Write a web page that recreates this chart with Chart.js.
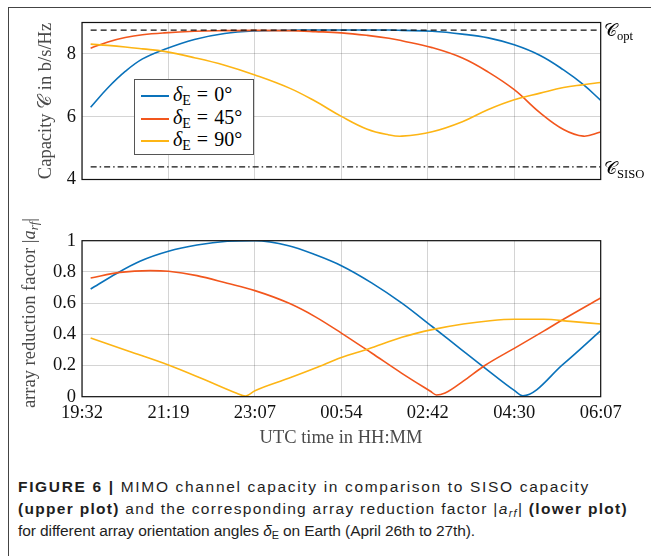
<!DOCTYPE html>
<html>
<head>
<meta charset="utf-8">
<script src="https://cdn.jsdelivr.net/npm/chart.js@4"></script>
<style>
  body { margin: 0; background: #fff; }
  #page { position: relative; width: 651px; height: 556px; overflow: hidden; background: #fff; }
  #frame { position: absolute; left: 8px; top: 7px; right: 0; bottom: 0; border-top: 1px solid #444; border-left: 1px solid #444; }
  canvas { position: absolute; left: 0; }
  .serif { font-family: "Liberation Serif", "DejaVu Serif", serif; }
  .ylab { position: absolute; white-space: nowrap; color: #4a4a4a; font-size: 18.5px;
          transform: translate(-50%, -50%) rotate(-90deg); }
  .cal { font-family: "DejaVu Sans", "Liberation Serif", serif; font-style: normal; }
  #legend { position: absolute; left: 134px; top: 79px; width: 118px; height: 74px;
            border: 1px solid #555; background: #fff; z-index: 3; font-size: 20px; }
  .item { position: absolute; left: 6px; height: 22px; line-height: 22px; white-space: nowrap; }
  .swatch { display: inline-block; width: 28px; height: 0; border-top: 2px solid; vertical-align: middle; margin-right: 4px; }
  .eq { margin: 0 6px; }
  sub { font-size: 70%; vertical-align: -0.3em; line-height: 0; }
  .side { position: absolute; font-size: 18px; white-space: nowrap; z-index: 3; }
  #xlab { position: absolute; left: 341px; top: 437px; transform: translate(-50%, -50%); color: #4a4a4a; font-size: 18.5px; white-space: nowrap; }
  #caption { position: absolute; left: 18px; top: 476px; font-family: "Liberation Sans", Arial, sans-serif;
             font-size: 15.5px; line-height: 22px; color: #1e1e1e; }
  .cl { display: block; width: max-content; white-space: nowrap; }
</style>
</head>
<body>
<div id="page">
  <div id="frame"></div>
  <canvas id="capChart" width="651" height="200" style="top:0"></canvas>
  <canvas id="arfChart" width="651" height="256" style="top:200px"></canvas>

  <div class="ylab serif" style="left:45px; top:101px">Capacity <span class="cal">𝒞</span> in b/s/Hz</div>
  <div class="ylab serif" style="left:29px; top:313px">array reduction factor |<i>a</i><sub><i>rf</i></sub>|</div>

  <div id="legend" class="serif">
    <div class="item" style="top:3px"><span class="swatch" style="border-color:#0a72ba"></span><i>δ</i><sub>E</sub><span class="eq">=</span>0°</div>
    <div class="item" style="top:25.5px"><span class="swatch" style="border-color:#f2561d"></span><i>δ</i><sub>E</sub><span class="eq">=</span>45°</div>
    <div class="item" style="top:48px"><span class="swatch" style="border-color:#fdb515"></span><i>δ</i><sub>E</sub><span class="eq">=</span>90°</div>
  </div>

  <div class="side serif" style="left:604px; top:19px"><span class="cal">𝒞</span><sub>opt</sub></div>
  <div class="side serif" style="left:604px; top:157px"><span class="cal">𝒞</span><sub>SISO</sub></div>

  <div id="xlab" class="serif">UTC time in HH:MM</div>

  <div id="caption">
    <span class="cl" data-w="572"><b>FIGURE 6 |</b> MIMO channel capacity in comparison to SISO capacity</span>
    <span class="cl" data-w="610"><b>(upper plot)</b> and the corresponding array reduction factor |<i>a</i><sub><i>rf</i></sub>| <b>(lower plot)</b></span>
    <span class="cl" data-w="457">for different array orientation angles <i>δ</i><sub>E</sub> on Earth (April 26th to 27th).</span>
  </div>
</div>

<script>
// tick labels of the time axis (one per grid line, x = 0..6)
const timeLabels = ['19:32', '21:19', '23:07', '00:54', '02:42', '04:30', '06:07'];

// upper plot: capacity in b/s/Hz
const capTime = [0.1, 0.3, 0.5, 0.7, 0.95, 1.3, 1.65, 2.0, 2.4, 2.7, 3.0, 3.3, 3.55, 3.7, 4.05, 4.4, 4.7, 5.0, 5.3, 5.57, 5.8, 6.0];
const capDelta0 = [6.30, 6.92, 7.44, 7.84, 8.14, 8.46, 8.65, 8.73, 8.75, 8.76, 8.76, 8.76, 8.76, 8.75, 8.72, 8.63, 8.51, 8.29, 7.95, 7.49, 7.02, 6.52];
const capDelta45 = [8.18, 8.38, 8.52, 8.61, 8.67, 8.72, 8.74, 8.75, 8.74, 8.71, 8.67, 8.59, 8.50, 8.42, 8.20, 7.87, 7.42, 6.86, 6.12, 5.59, 5.38, 5.51];
const capDelta90 = [8.31, 8.27, 8.22, 8.16, 8.08, 7.88, 7.64, 7.33, 6.91, 6.49, 6.01, 5.60, 5.42, 5.38, 5.52, 5.84, 6.23, 6.54, 6.75, 6.93, 7.02, 7.09];
const refTime = [0.1, 6.0];
const capOpt = 8.76;
const capSiso = 4.40;
const capTicks = [4, 6, 8];

// lower plot: array reduction factor |a_rf|
const arfTime0 = [0.1, 0.4, 0.67, 1.0, 1.33, 1.68, 2.0, 2.39, 2.7, 3.0, 3.35, 3.7, 4.05, 4.37, 4.68, 5.0, 5.1, 5.57, 6.0];
const arfDelta0 = [0.69, 0.79, 0.868, 0.932, 0.972, 0.996, 1.0, 0.968, 0.91, 0.84, 0.73, 0.60, 0.45, 0.31, 0.175, 0.04, 0.006, 0.21, 0.423];
const arfTime45 = [0.1, 0.44, 0.79, 1.0, 1.33, 1.68, 2.0, 2.39, 2.7, 3.0, 3.35, 3.7, 4.03, 4.1, 4.2, 4.41, 4.66, 5.0, 5.34, 5.51, 6.0];
const arfDelta45 = [0.761, 0.797, 0.808, 0.804, 0.776, 0.727, 0.680, 0.600, 0.512, 0.408, 0.28, 0.15, 0.035, 0.011, 0.024, 0.10, 0.20, 0.31, 0.42, 0.477, 0.633];
const arfTime90 = [0.1, 0.55, 1.0, 1.4, 1.79, 1.89, 2.0, 2.39, 2.7, 3.0, 3.31, 3.7, 4.05, 4.41, 4.72, 5.0, 5.34, 5.65, 6.0];
const arfDelta90 = [0.376, 0.29, 0.203, 0.113, 0.022, 0.004, 0.038, 0.118, 0.184, 0.252, 0.306, 0.381, 0.43, 0.466, 0.487, 0.496, 0.496, 0.483, 0.466];
const arfTicks = [0, 0.2, 0.4, 0.6, 0.8, 1];

const BLUE = '#0a72ba';
const ORANGE = '#f2561d';
const YELLOW = '#fdb515';
const GRID = 'rgba(0, 0, 0, 0.17)';

Chart.defaults.font.family = '"Liberation Serif", "DejaVu Serif", serif';
Chart.defaults.font.size = 18.5;
Chart.defaults.color = '#111';

function pts(xs, ys) {
  return xs.map((x, i) => ({ x: x, y: ys[i] }));
}

// smooth spline for the capacity curves, monotone for the V-shaped |a_rf| curves
function curve(data, color, monotone) {
  const ds = {
    data: data,
    borderColor: color,
    borderWidth: 1.6,
    pointRadius: 0,
    fill: false
  };
  if (monotone) ds.cubicInterpolationMode = 'monotone';
  else ds.tension = 0.4;
  return ds;
}

function refLine(value, dash) {
  return {
    data: pts(refTime, refTime.map(() => value)),
    borderColor: '#111',
    borderWidth: 1.2,
    borderDash: dash,
    pointRadius: 0,
    tension: 0,
    fill: false
  };
}

// full black box around the plot area
const boxPlugin = {
  id: 'box',
  afterDraw(chart) {
    const a = chart.chartArea;
    const ctx = chart.ctx;
    ctx.save();
    ctx.strokeStyle = '#111';
    ctx.lineWidth = 1.2;
    ctx.strokeRect(a.left, a.top, a.right - a.left, a.bottom - a.top);
    ctx.restore();
  }
};

function xAxis(showLabels, height) {
  return {
    type: 'linear',
    min: 0,
    max: 6,
    border: { display: false },
    grid: { color: GRID, lineWidth: 1, drawTicks: false },
    afterBuildTicks: s => { s.ticks = timeLabels.map((l, i) => ({ value: i })); },
    ticks: {
      display: showLabels,
      padding: 5,
      maxRotation: 0,
      autoSkip: false,
      callback: v => timeLabels[v]
    },
    afterFit: s => { s.height = height; }
  };
}

function yAxis(min, max, ticks) {
  return {
    type: 'linear',
    min: min,
    max: max,
    border: { display: false },
    grid: { color: GRID, lineWidth: 1, drawTicks: false },
    afterBuildTicks: s => { s.ticks = ticks.map(v => ({ value: v })); },
    ticks: { padding: 6, callback: v => String(v) },
    afterFit: s => { s.width = 82; }
  };
}

const baseOptions = {
  responsive: false,
  animation: false,
  plugins: { legend: { display: false }, tooltip: { enabled: false } }
};

new Chart(document.getElementById('capChart'), {
  type: 'line',
  data: {
    datasets: [
      refLine(capOpt, [6, 4]),
      refLine(capSiso, [6, 3, 1.5, 3]),
      curve(pts(capTime, capDelta90), YELLOW, false),
      curve(pts(capTime, capDelta45), ORANGE, false),
      curve(pts(capTime, capDelta0), BLUE, false)
    ]
  },
  options: {
    ...baseOptions,
    layout: { padding: { left: 0, right: 50.3, top: 22.5, bottom: 0 } },
    scales: {
      x: xAxis(false, 20.5),
      y: yAxis(4, 9, capTicks)
    }
  },
  plugins: [boxPlugin]
});

new Chart(document.getElementById('arfChart'), {
  type: 'line',
  data: {
    datasets: [
      curve(pts(arfTime90, arfDelta90), YELLOW, true),
      curve(pts(arfTime45, arfDelta45), ORANGE, true),
      curve(pts(arfTime0, arfDelta0), BLUE, true)
    ]
  },
  options: {
    ...baseOptions,
    layout: { padding: { left: 0, right: 50.3, top: 40.7, bottom: 0 } },
    scales: {
      x: xAxis(true, 59.3),
      y: yAxis(0, 1, arfTicks)
    }
  },
  plugins: [boxPlugin]
});

// stretch each caption line to the width it has in the figure
document.querySelectorAll('.cl').forEach(line => {
  const target = parseFloat(line.dataset.w);
  const natural = line.getBoundingClientRect().width;
  const n = line.textContent.trim().length;
  line.style.letterSpacing = ((target - natural) / n).toFixed(3) + 'px';
});
</script>
</body>
</html>
